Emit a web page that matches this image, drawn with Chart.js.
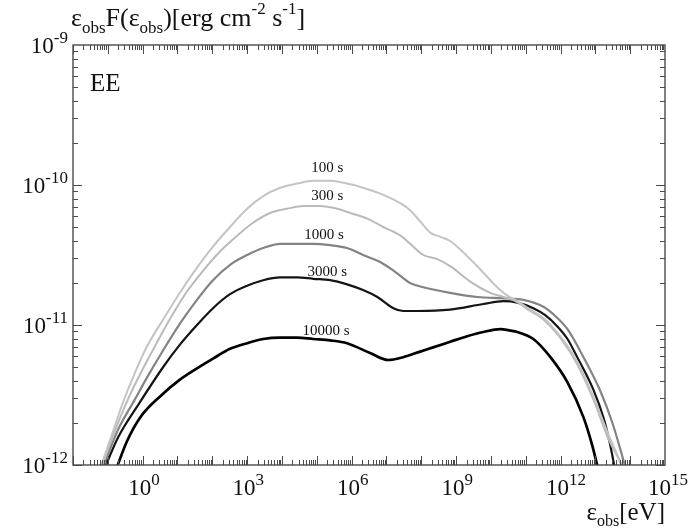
<!DOCTYPE html>
<html>
<head>
<meta charset="utf-8">
<script src="https://cdn.jsdelivr.net/npm/chart.js@4.4.1/dist/chart.umd.min.js"></script>
<style>
  body { margin: 0; background: #fff; }
  #wrap { width: 688px; height: 530px; }
</style>
</head>
<body>
<div id="wrap"><canvas id="sedChart"></canvas></div>
<script>
// log10 of energy (eV) and log10 of flux for each time snapshot
const e100 = [-1.28, -0.88, -0.56, -0.22, 0.13, 0.59, 1.07, 1.56, 2.02, 2.51, 3.00, 3.46, 3.95, 4.44, 4.90, 5.39, 5.87, 6.33, 6.91, 7.40, 7.68, 7.97, 8.26, 8.55, 8.83, 9.12, 9.61, 10.18, 10.47, 10.70, 11.13, 11.51, 11.99, 12.48, 12.94, 13.37, 13.75, 13.89];
const f100 = [-12.07, -11.78, -11.55, -11.34, -11.15, -10.96, -10.77, -10.59, -10.44, -10.30, -10.17, -10.08, -10.02, -9.99, -9.97, -9.97, -9.99, -10.02, -10.07, -10.13, -10.18, -10.26, -10.34, -10.37, -10.40, -10.46, -10.58, -10.73, -10.79, -10.82, -10.89, -10.95, -11.08, -11.26, -11.51, -11.78, -12.00, -12.11];

const e300 = [-1.25, -0.85, -0.42, -0.07, 0.27, 0.73, 1.22, 1.71, 2.20, 2.68, 3.17, 3.66, 4.15, 4.61, 5.10, 5.59, 5.96, 6.45, 6.91, 7.40, 7.68, 8.06, 8.46, 8.83, 9.41, 9.98, 10.36, 10.70, 11.13, 11.51, 11.99, 12.48, 12.94, 13.37, 13.78, 13.89];
const f300 = [-12.07, -11.79, -11.53, -11.35, -11.19, -10.98, -10.78, -10.62, -10.48, -10.37, -10.27, -10.20, -10.17, -10.15, -10.15, -10.17, -10.20, -10.24, -10.30, -10.36, -10.42, -10.50, -10.53, -10.58, -10.69, -10.77, -10.80, -10.83, -10.90, -10.96, -11.09, -11.28, -11.53, -11.81, -12.02, -12.11];

const e1000 = [-1.22, -0.71, -0.22, 0.16, 0.59, 1.07, 1.56, 2.02, 2.51, 3.00, 3.46, 3.95, 4.44, 4.90, 5.39, 5.87, 6.33, 6.82, 7.25, 7.68, 8.06, 8.83, 9.61, 10.36, 10.93, 11.51, 11.91, 12.20, 12.66, 13.14, 13.49, 13.72, 13.89];
const f1000 = [-12.07, -11.75, -11.53, -11.36, -11.18, -10.99, -10.82, -10.68, -10.57, -10.50, -10.45, -10.42, -10.42, -10.42, -10.43, -10.45, -10.50, -10.55, -10.62, -10.70, -10.73, -10.77, -10.80, -10.81, -10.82, -10.87, -10.95, -11.03, -11.23, -11.47, -11.70, -11.89, -12.04];

const e3000 = [-1.17, -0.70, -0.10, 0.59, 1.07, 1.56, 2.02, 2.51, 3.00, 3.46, 3.95, 4.44, 4.90, 5.39, 5.87, 6.33, 6.74, 7.20, 7.48, 7.89, 8.83, 9.78, 10.36, 10.76, 11.22, 11.56, 11.91, 12.20, 12.48, 12.94, 13.23, 13.43, 13.57];
const f3000 = [-12.07, -11.80, -11.56, -11.30, -11.14, -11.00, -10.88, -10.78, -10.72, -10.68, -10.66, -10.66, -10.67, -10.68, -10.71, -10.75, -10.80, -10.88, -10.90, -10.90, -10.89, -10.85, -10.83, -10.84, -10.88, -10.93, -11.01, -11.10, -11.23, -11.46, -11.66, -11.86, -12.04];

const e10000 = [-0.82, -0.45, -0.07, 0.50, 1.07, 1.56, 2.02, 2.51, 3.00, 3.46, 3.95, 4.44, 4.90, 5.39, 5.87, 6.53, 7.05, 7.48, 7.97, 8.34, 8.83, 9.32, 9.78, 10.27, 10.56, 10.76, 11.22, 11.71, 12.20, 12.66, 12.91, 13.09];
const f10000 = [-12.07, -11.83, -11.66, -11.51, -11.39, -11.31, -11.24, -11.17, -11.13, -11.10, -11.09, -11.09, -11.10, -11.11, -11.13, -11.20, -11.25, -11.23, -11.19, -11.16, -11.12, -11.08, -11.05, -11.03, -11.04, -11.05, -11.10, -11.23, -11.41, -11.66, -11.86, -12.04];

const seriesNames = ["100 s", "300 s", "1000 s", "3000 s", "10000 s"];
// where each name is written (log10 E, log10 F)
const nameE = [5.30, 5.30, 5.21, 5.30, 5.27];
const nameF = [-9.88, -10.08, -10.36, -10.62, -11.04];

const xTickExp = [0, 3, 6, 9, 12, 15];
const yTickExp = [-12, -11, -10, -9];
const xRange = [-2, 15];
const yRange = [-12, -9];

const serif = "'Liberation Serif', 'Times New Roman', serif";

function toPoints(es, fs) {
    return es.map((e, i) => ({ x: Math.pow(10, e), y: Math.pow(10, fs[i]) }));
}

const datasets = [
    { label: seriesNames[0], data: toPoints(e100, f100), borderColor: "#c4c4c4", borderWidth: 2 },
    { label: seriesNames[1], data: toPoints(e300, f300), borderColor: "#bababa", borderWidth: 2 },
    { label: seriesNames[2], data: toPoints(e1000, f1000), borderColor: "#838383", borderWidth: 2.2 },
    { label: seriesNames[3], data: toPoints(e3000, f3000), borderColor: "#141414", borderWidth: 2.2 },
    { label: seriesNames[4], data: toPoints(e10000, f10000), borderColor: "#000000", borderWidth: 2.7 }
];
datasets.forEach(d => {
    d.pointRadius = 0;
    d.fill = false;
    d.cubicInterpolationMode = "monotone";
});

// draw text made of normal / sub / sup pieces, starting at x on baseline y
function drawRich(ctx, parts, x, y, big, small) {
    let cx = x;
    parts.forEach(p => {
        ctx.font = (p[1] === "n" ? big : small) + "px " + serif;
        let dy = 0;
        if (p[1] === "sub") dy = big * 0.25;
        if (p[1] === "sup") dy = -big * 0.45;
        ctx.fillText(p[0], cx, y + dy);
        cx += ctx.measureText(p[0]).width;
    });
    return cx - x;
}

function richWidth(ctx, parts, big, small) {
    let w = 0;
    parts.forEach(p => {
        ctx.font = (p[1] === "n" ? big : small) + "px " + serif;
        w += ctx.measureText(p[0]).width;
    });
    return w;
}

const framePlugin = {
    id: "framePlugin",
    afterDatasetsDraw(chart) {
        const ctx = chart.ctx;
        const a = chart.chartArea;
        const x = chart.scales.x;
        const y = chart.scales.y;
        ctx.save();

        // box
        ctx.strokeStyle = "#4a4a4a";
        ctx.lineWidth = 1.4;
        ctx.strokeRect(a.left, a.top, a.right - a.left, a.bottom - a.top);

        // inward ticks on all four sides
        ctx.lineWidth = 1;
        ctx.beginPath();
        for (let d = xRange[0]; d < xRange[1]; d++) {
            for (let m = 1; m <= 9; m++) {
                const px = Math.round(x.getPixelForValue(m * Math.pow(10, d))) + 0.5;
                const len = m === 1 ? 9 : 5;
                ctx.moveTo(px, a.bottom); ctx.lineTo(px, a.bottom - len);
                ctx.moveTo(px, a.top); ctx.lineTo(px, a.top + len);
            }
        }
        for (let d = yRange[0]; d < yRange[1]; d++) {
            for (let m = 1; m <= 9; m++) {
                const py = Math.round(y.getPixelForValue(m * Math.pow(10, d))) + 0.5;
                const len = m === 1 ? 9 : 5;
                ctx.moveTo(a.left, py); ctx.lineTo(a.left + len, py);
                ctx.moveTo(a.right, py); ctx.lineTo(a.right - len, py);
            }
        }
        ctx.stroke();

        ctx.fillStyle = "#111";
        ctx.textBaseline = "alphabetic";
        ctx.textAlign = "left";

        // x tick labels
        xTickExp.forEach(p => {
            const parts = [["10", "n"], [String(p), "sup"]];
            const w = richWidth(ctx, parts, 23, 17);
            let px = x.getPixelForValue(Math.pow(10, p)) - 14.5;
            if (px + w > chart.width) px = chart.width - w;
            drawRich(ctx, parts, px, a.bottom + 30, 23, 17);
        });

        // y tick labels
        yTickExp.forEach(p => {
            const parts = [["10", "n"], [String(p), "sup"]];
            const w = richWidth(ctx, parts, 23, 17);
            const py = y.getPixelForValue(Math.pow(10, p));
            drawRich(ctx, parts, a.left - 5 - w, py + 8, 23, 17);
        });

        // y title
        drawRich(ctx, [["\u03b5", "n"], ["obs", "sub"], ["F(\u03b5", "n"], ["obs", "sub"],
            [")[erg cm", "n"], ["-2", "sup"], [" s", "n"], ["-1", "sup"], ["]", "n"]],
            a.left - 2, a.top - 19, 26, 17);

        // x title
        const xt = [["\u03b5", "n"], ["obs", "sub"], ["[eV]", "n"]];
        const xw = richWidth(ctx, xt, 25, 16);
        drawRich(ctx, xt, a.right - xw, a.bottom + 55, 25, 16);

        // panel tag
        ctx.font = "25px " + serif;
        ctx.fillText("EE", a.left + 17, a.top + 46);

        // curve names
        ctx.font = "15px " + serif;
        ctx.textAlign = "center";
        ctx.textBaseline = "middle";
        seriesNames.forEach((n, i) => {
            ctx.fillText(n, x.getPixelForValue(Math.pow(10, nameE[i])), y.getPixelForValue(Math.pow(10, nameF[i])));
        });
        ctx.restore();
    }
};

const ctx = document.getElementById("sedChart").getContext("2d");
const sedChart = new Chart(ctx, {
    type: "line",
    data: { datasets: datasets },
    options: {
        responsive: true,
        maintainAspectRatio: false,
        animation: false,
        devicePixelRatio: 1,
        layout: { padding: { top: 45, right: 23, left: 0, bottom: 0 } },
        plugins: { legend: { display: false }, tooltip: { enabled: false } },
        scales: {
            x: {
                type: "logarithmic",
                min: Math.pow(10, xRange[0]),
                max: Math.pow(10, xRange[1]),
                ticks: { display: false },
                grid: { display: false },
                border: { display: false },
                afterFit: s => { s.height = 65; }
            },
            y: {
                type: "logarithmic",
                min: Math.pow(10, yRange[0]),
                max: Math.pow(10, yRange[1]),
                ticks: { display: false },
                grid: { display: false },
                border: { display: false },
                afterFit: s => { s.width = 73; }
            }
        }
    },
    plugins: [framePlugin]
});
</script>
</body>
</html>
